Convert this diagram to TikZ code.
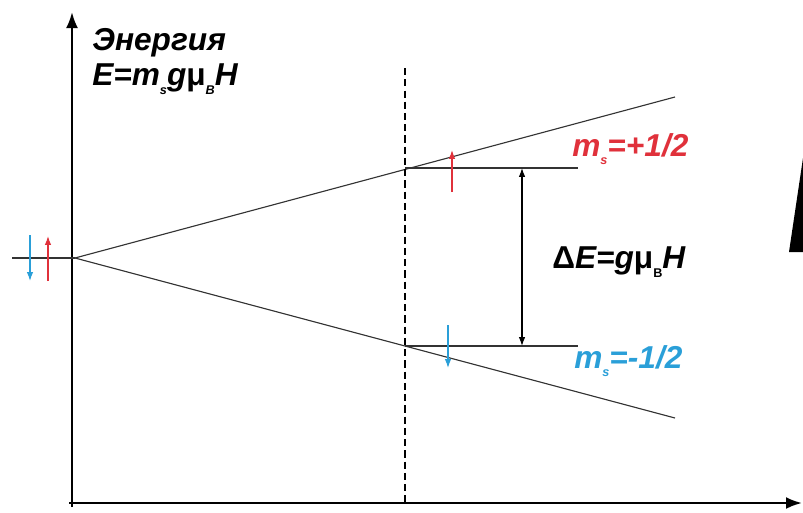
\documentclass[tikz,border=0pt]{standalone}
\usepackage{fontspec}
\setmainfont{Liberation Sans}
\usetikzlibrary{arrows.meta,positioning}
\definecolor{spinup}{HTML}{E0313B}
\definecolor{spindown}{HTML}{2A9FD8}
\definecolor{lvl}{HTML}{333333}
\newcommand{\lbl}[1]{\textbf{\textit{#1}}}
\newcommand{\ssub}[1]{\raisebox{-0.5ex}{\fontsize{9}{9}\selectfont #1}}
\newcommand{\mub}{\textup{μ}\ssub{B}}

\begin{document}
\begin{tikzpicture}[
    x=0.025cm,y=-0.025cm,
    font=\fontsize{22.5}{24}\selectfont,
    axis/.style={line width=1.7pt,-{Latex[length=4mm,width=3mm]}},
    level/.style={draw=lvl,line width=0.8pt},
    spin/.style={line width=0.9pt,-{Latex[length=2.2mm,width=1.6mm]}},
    txt/.style={anchor=west,inner sep=0pt},
  ]
    \useasboundingbox (0,0) rectangle (803,513);
    % axes
    \coordinate (orig) at (72,503);
    \coordinate (ytop) at (72,12);
    \coordinate (xend) at (802,503);
    \draw[axis] (72,507) -- (ytop);
    \draw[axis] (69,503) -- (xend);
    % zero field level and splitting
    \coordinate (left) at (12,258);
    \coordinate (split) at (75,258);
    \coordinate (upend) at (675,97);
    \coordinate (loend) at (675,418);
    \draw[level] (left) -- (split);
    \draw[level] (split) -- (upend);
    \draw[level] (split) -- (loend);
    % field value
    \coordinate (dtop) at (405,68);
    \coordinate (dbot) at (405,503);
    \draw[line width=0.8pt,dashed,dash pattern=on 5pt off 3pt] (dtop) -- (dbot);
    \coordinate (upA) at (405,168);
    \coordinate (upB) at (578,168);
    \coordinate (loA) at (405,346);
    \coordinate (loB) at (578,346);
    \draw[level] (upA) -- (upB);
    \draw[level] (loA) -- (loB);
    \coordinate (gapT) at (522,168);
    \coordinate (gapB) at (522,346);
    \draw[line width=0.8pt,{Latex[length=2.2mm,width=1.6mm]}-{Latex[length=2.2mm,width=1.6mm]}] (gapT) -- (gapB);
    % spins
    \coordinate (s1a) at (30,235);
    \coordinate (s1b) at (30,281);
    \coordinate (s2a) at (48,281);
    \coordinate (s2b) at (48,236);
    \coordinate (s3a) at (452,192);
    \coordinate (s3b) at (452,150);
    \coordinate (s4a) at (448,325);
    \coordinate (s4b) at (448,368);
    \draw[spin,spindown] (s1a) -- (s1b);
    \draw[spin,spinup] (s2a) -- (s2b);
    \draw[spin,spinup] (s3a) -- (s3b);
    \draw[spin,spindown] (s4a) -- (s4b);
    % labels
    \node[txt] (energy) at (92,43) {\lbl{Энергия}};
    \node[txt] (formula) at (92,79) {\lbl{E=m\ssub{s}g\mub H}};
    \node[txt,text=spinup] (mplus) at (572,149) {\lbl{m\ssub{s}=+1/2}};
    \node[txt] (gap) at (552,262) {\textbf{\textup{Δ}\textit{E=g}\mub\textit{H}}};
    \node[txt,text=spindown] (mminus) at (574,361) {\lbl{m\ssub{s}=-1/2}};
    % cut edge at right
    \fill (789,252) -- (803,252) -- (803,158) -- cycle;
  \end{tikzpicture}
\end{document}
